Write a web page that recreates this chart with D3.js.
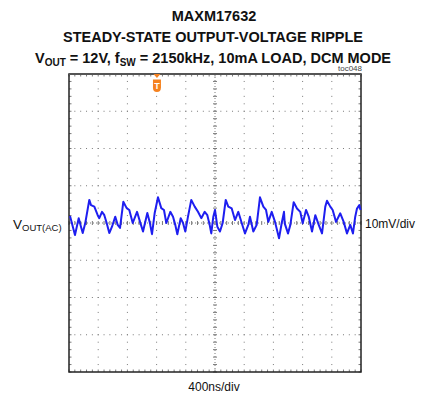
<!DOCTYPE html>
<html>
<head>
<meta charset="utf-8">
<script src="https://cdn.jsdelivr.net/npm/d3@7"></script>
<style>
html,body{margin:0;padding:0;background:#fff;}
svg{display:block;}
</style>
</head>
<body>
<svg id="chart" width="427" height="395"></svg>
<script>
// ---- data ----
const titleLines = ["MAXM17632", "STEADY-STATE OUTPUT-VOLTAGE RIPPLE"];
const timeNs = [14,82,133,164,188,223,278,301,347,393,415,452,484,516,552,589,634,667,699,744,790,826,873,932,973,
  1014,1073,1105,1137,1174,1219,1264,1301,1333,1388,1425,1456,1484,1530,1562,1593,1630,1675,1722,1767,1812,1859,1895,1927,1949,
  1977,2000,2032,2068,2105,2147,2182,2229,2274,2319,2366,2411,2456,2479,2525,2571,2616,2662,2699,2730,2777,2822,2877,2914,2945,
  2955,3000,3032,3078,3123,3168,3201,3247,3284,3329,3374,3421,3466,3511,3534,3579,3612,3658,3716,3763,3808,3853,3890,3921,3945,3977,3993];
const rippleMv = [1.9,-3.2,1.3,-1.0,-2.7,0,6.2,4.8,4.4,2.1,1.3,3.0,2.1,0,-2.7,-1.0,1.7,-0.5,-1.3,5.7,4.0,3.5,0,3.0,0.3,
  -2.3,2.7,0.3,-3.0,2.7,6.9,4.0,3.5,0,3.0,1.7,-0.5,-3.0,1.3,0,-2.3,1.7,6.2,4.4,3.0,1.3,3.0,2.1,-0.5,-2.8,
  1.7,3.5,-1.0,-2.3,0,6.2,4.4,3.9,0.8,3.0,0,-2.8,-0.5,1.7,-2.3,-0.5,6.9,4.4,3.5,0.3,3.0,0.3,-4.1,0,3.0,
  -0.1,-2.8,-0.5,5.6,3.9,3.0,-0.1,3.5,1.7,-2.3,2.1,-0.5,-2.8,4.4,6.0,4.4,3.5,0.3,2.6,0.3,-2.8,-0.5,-2.8,1.7,3.9,4.8,3.5];
const xDivTicks = [0,400,800,1200,1600,2000,2400,2800,3200,3600,4000]; // ns
const yDivTicks = [-40,-30,-20,-10,0,10,20,30,40]; // mV
const triggerNs = 1205;
const xLabel = "400ns/div";
const yLabel = "10mV/div";
const tocLabel = "toc048";

// ---- layout ----
const svg = d3.select("#chart");
const L = 69, R = 361, T = 74, B = 372;
const x = d3.scaleLinear().domain([0, 4000]).range([L, R]);
const y = d3.scaleLinear().domain([-40, 40]).range([B, T]);
const font = "'Liberation Sans', Arial, sans-serif";
const gridCol = "#7a7a7a";

// titles
svg.append("text").attr("x", 214).attr("y", 20.5).attr("text-anchor", "middle")
  .attr("font-family", font).attr("font-weight", "bold").attr("font-size", 14.5).attr("fill", "#111")
  .text(titleLines[0]);
svg.append("text").attr("x", 213).attr("y", 41.5).attr("text-anchor", "middle")
  .attr("font-family", font).attr("font-weight", "bold").attr("font-size", 14.5).attr("fill", "#111")
  .attr("textLength", 300).attr("lengthAdjust", "spacingAndGlyphs")
  .text(titleLines[1]);
const t3 = svg.append("text").attr("x", 213).attr("y", 62.5).attr("text-anchor", "middle")
  .attr("font-family", font).attr("font-weight", "bold").attr("font-size", 14.5).attr("fill", "#111");
t3.append("tspan").text("V");
t3.append("tspan").attr("font-size", 10).attr("dy", 3).text("OUT");
t3.append("tspan").attr("dy", -3).text(" = 12V, f");
t3.append("tspan").attr("font-size", 10).attr("dy", 3).text("SW");
t3.append("tspan").attr("dy", -3).text(" = 2150kHz, 10mA LOAD, DCM MODE");

svg.append("text").attr("x", 362).attr("y", 71).attr("text-anchor", "end")
  .attr("font-family", font).attr("font-size", 8).attr("fill", "#444").text(tocLabel);

// ---- graticule ----
const g = svg.append("g");
const xMinor = [];
for (let i = 0; i <= 50; i++) xMinor.push(i * 80);
const yMinor = [];
for (let i = 0; i <= 40; i++) yMinor.push(-40 + i * 2);

xDivTicks.slice(1, -1).filter(v => v !== 2000).forEach(v => {
  yMinor.slice(1, -1).forEach(m => {
    g.append("rect").attr("x", x(v) - 0.5).attr("y", y(m) - 0.5).attr("width", 1).attr("height", 1).attr("fill", gridCol);
  });
});
yDivTicks.slice(1, -1).filter(v => v !== 0).forEach(v => {
  xMinor.slice(1, -1).forEach(m => {
    g.append("rect").attr("x", x(m) - 0.5).attr("y", y(v) - 0.5).attr("width", 1).attr("height", 1).attr("fill", gridCol);
  });
});
g.append("line").attr("x1", x(2000)).attr("x2", x(2000)).attr("y1", T).attr("y2", B)
  .attr("stroke", gridCol).attr("stroke-width", 1).attr("stroke-dasharray", "1,2");
g.append("line").attr("x1", L).attr("x2", R).attr("y1", y(0)).attr("y2", y(0))
  .attr("stroke", gridCol).attr("stroke-width", 1).attr("stroke-dasharray", "1,2");
yMinor.forEach(m => {
  g.append("line").attr("x1", x(2000) - 2).attr("x2", x(2000) + 2).attr("y1", y(m)).attr("y2", y(m))
    .attr("stroke", gridCol).attr("stroke-width", 1);
  g.append("line").attr("x1", L).attr("x2", L + 2.5).attr("y1", y(m)).attr("y2", y(m)).attr("stroke", gridCol);
  g.append("line").attr("x1", R - 2.5).attr("x2", R).attr("y1", y(m)).attr("y2", y(m)).attr("stroke", gridCol);
});
xMinor.forEach(m => {
  g.append("line").attr("y1", y(0) - 2).attr("y2", y(0) + 2).attr("x1", x(m)).attr("x2", x(m))
    .attr("stroke", gridCol).attr("stroke-width", 1);
  g.append("line").attr("y1", T).attr("y2", T + 2.5).attr("x1", x(m)).attr("x2", x(m)).attr("stroke", gridCol);
  g.append("line").attr("y1", B - 2.5).attr("y2", B).attr("x1", x(m)).attr("x2", x(m)).attr("stroke", gridCol);
});

// frame
svg.append("rect").attr("x", L).attr("y", T).attr("width", R - L).attr("height", B - T)
  .attr("fill", "none").attr("stroke", "#222").attr("stroke-width", 1.5);
svg.append("line").attr("x1", L).attr("x2", R).attr("y1", T).attr("y2", T)
  .attr("stroke", "#555").attr("stroke-width", 2.2);

// ---- trace ----
const pts = timeNs.map((t, i) => [t, rippleMv[i]]);
svg.append("path").datum(pts)
  .attr("d", d3.line().x(d => x(d[0])).y(d => y(d[1])))
  .attr("fill", "none").attr("stroke", "#1e1ef0").attr("stroke-width", 2)
  .attr("stroke-linejoin", "round");

// trigger marker
const tx = x(triggerNs);
svg.append("path").attr("d", `M${tx - 3.5},${T} L${tx + 3.5},${T} L${tx},${T + 4} Z`).attr("fill", "#f58220");
svg.append("path")
  .attr("d", `M${tx - 4},${T + 5.5} L${tx + 4},${T + 5.5} L${tx + 4},${T + 13.5} Q${tx + 4},${T + 18} ${tx},${T + 18} Q${tx - 4},${T + 18} ${tx - 4},${T + 13.5} Z`)
  .attr("fill", "#f58220");
svg.append("text").attr("x", tx).attr("y", T + 15).attr("text-anchor", "middle")
  .attr("font-family", font).attr("font-weight", "bold").attr("font-size", 9).attr("fill", "#fff").text("T");

// ---- labels ----
const vl = svg.append("text").attr("x", 13).attr("y", 229)
  .attr("font-family", font).attr("font-size", 13.5).attr("fill", "#111");
vl.append("tspan").text("V");
vl.append("tspan").attr("font-size", 9.5).attr("dy", 2).text("OUT(AC)");

svg.append("text").attr("x", 365).attr("y", 227.5)
  .attr("font-family", font).attr("font-size", 12).attr("fill", "#111").text(yLabel);
svg.append("text").attr("x", 214).attr("y", 390.5).attr("text-anchor", "middle")
  .attr("font-family", font).attr("font-size", 12).attr("fill", "#111").text(xLabel);
</script>
</body>
</html>
